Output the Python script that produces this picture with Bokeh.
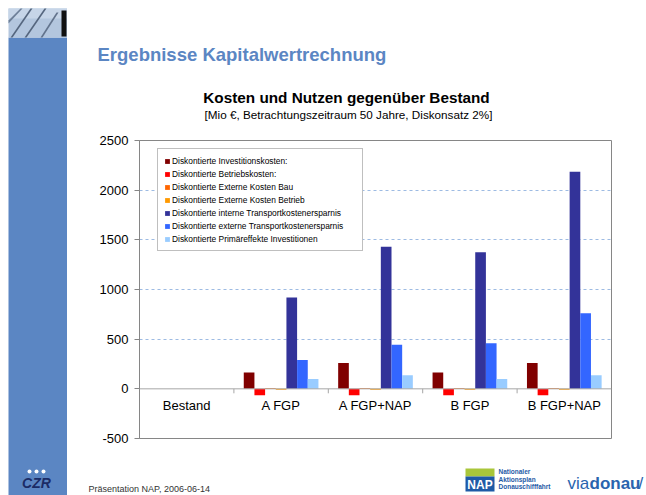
from bokeh.plotting import figure
from bokeh.layouts import row, column
from bokeh.models import FactorRange, Range1d, FixedTicker, Span, Legend, LegendItem
from bokeh.transform import dodge
from bokeh.core.properties import value
from bokeh.embed import file_html
from bokeh.resources import INLINE

# ---------------- data ----------------
categories = ["Bestand", "A FGP", "A FGP+NAP", "B FGP", "B FGP+NAP"]
series_names = [
    "Diskontierte Investitionskosten:",
    "Diskontierte Betriebskosten:",
    "Diskontierte Externe Kosten Bau",
    "Diskontierte Externe Kosten Betrieb",
    "Diskontierte interne Transportkostenersparnis",
    "Diskontierte externe Transportkostenersparnis",
    "Diskontierte Primäreffekte Investitionen",
]
investitionskosten = [0, 165, 260, 165, 260]
betriebskosten = [0, -65, -65, -65, -65]
externe_kosten_bau = [0, 8, 8, 8, 8]
externe_kosten_betrieb = [0, -8, -8, -8, -8]
interne_transport = [0, 920, 1430, 1375, 2185]
externe_transport = [0, 290, 445, 460, 760]
primaereffekte = [0, 100, 138, 100, 138]
y_ticks = [-500, 0, 500, 1000, 1500, 2000, 2500]
grid_ticks = [500, 1000, 1500, 2000]

series_values = [investitionskosten, betriebskosten, externe_kosten_bau,
                 externe_kosten_betrieb, interne_transport, externe_transport,
                 primaereffekte]
colors = ["#800000", "#FF0000", "#FF6600", "#FF9900", "#333399", "#3366FF", "#99CCFF"]

FONT = "Liberation Sans"
SLIDE_BLUE = "#5b86c3"
LOGO_BLUE = "#1f5aa6"

PAGE_W, PAGE_H = 646, 495
STRIP_W = 67
TOP_H, CHART_H = 132, 323
FOOT_H = PAGE_H - TOP_H - CHART_H
RIGHT_W = PAGE_W - STRIP_W


def deco_fig(w, h, x0, x1, y0, y1):
    f = figure(width=w, height=h, x_range=Range1d(x0, x1), y_range=Range1d(y1, y0),
               x_axis_type=None, y_axis_type=None, output_backend="svg", toolbar_location=None,
               min_border=0, min_border_left=0, min_border_right=0, min_border_top=0,
               min_border_bottom=0, frame_align=False)
    f.grid.visible = False
    f.outline_line_color = None
    f.background_fill_color = "white"
    f.border_fill_color = "white"
    return f


def txt(f, x, y, s, size, color="#000000", style="normal", align="left"):
    f.text(x=[x], y=[y], text=[s], text_font=value(FONT), text_font_size=size,
           text_color=color, text_font_style=style, text_align=align, text_baseline="middle")


# ---------------- left strip ----------------
left = deco_fig(STRIP_W, PAGE_H, 0, STRIP_W, 0, PAGE_H)
left.quad(left=[8], right=[67], top=[37], bottom=[PAGE_H], fill_color=SLIDE_BLUE, line_color=None)
left.quad(left=[8], right=[67], top=[8], bottom=[37], fill_color="#b3c6de", line_color=None)
left.quad(left=[8], right=[67], top=[8], bottom=[18], fill_color="#c6d5e8", line_color=None)
left.patches(xs=[[8, 20, 22, 8], [10, 30, 32, 12], [24, 44, 46, 26], [40, 56, 58, 42]],
             ys=[[20, 8, 8, 23], [37, 8, 8, 37], [37, 8, 8, 37], [37, 12, 12, 37]],
             fill_color=["#6d7f98", "#55667e", "#55667e", "#62738c"], line_color=None)
left.quad(left=[61], right=[66], top=[10], bottom=[36], fill_color="#111111", line_color=None)
left.scatter(x=[29, 36, 43], y=[471, 471, 471], size=4, fill_color="white", line_color=None)
txt(left, 36, 482, "CZR", "14px", "#1b2c66", "bold italic", "center")

# ---------------- top (titles) ----------------
top = deco_fig(RIGHT_W, TOP_H, STRIP_W, PAGE_W, 0, TOP_H)
txt(top, 97, 54, "Ergebnisse Kapitalwertrechnung", "18.5px", SLIDE_BLUE, "bold")
txt(top, 346, 97, "Kosten und Nutzen gegenüber Bestand", "15.3px", "#000000", "bold", "center")
txt(top, 348, 114, "[Mio €, Betrachtungszeitraum 50 Jahre, Diskonsatz 2%]", "11.7px",
    "#000000", "normal", "center")

# ---------------- chart ----------------
F_LEFT, F_RIGHT, F_TOP, F_BOTTOM = 139, 611, 140, 438
p = figure(width=RIGHT_W, height=CHART_H, x_range=FactorRange(*categories),
           y_range=Range1d(-500, 2500), output_backend="svg", toolbar_location=None,
           min_border_left=F_LEFT - STRIP_W, min_border_right=PAGE_W - F_RIGHT,
           min_border_top=F_TOP - TOP_H, min_border_bottom=TOP_H + CHART_H - F_BOTTOM,
           frame_align=False)
p.xaxis.visible = False
p.xgrid.visible = False
p.outline_line_color = "#868686"
p.outline_line_width = 1
p.background_fill_color = "white"
p.border_fill_color = "white"

yax = p.yaxis[0]
yax.ticker = FixedTicker(ticks=y_ticks)
yax.major_label_overrides = {t: str(t) for t in y_ticks}
yax.axis_line_color = "#868686"
yax.major_tick_line_color = "#868686"
yax.major_tick_out = 5
yax.major_tick_in = 0
yax.minor_tick_line_color = None
yax.major_label_text_font = FONT
yax.major_label_text_font_size = "13px"
yax.major_label_text_color = "#000000"
yax.major_label_standoff = 6

p.ygrid.ticker = FixedTicker(ticks=grid_ticks)
p.ygrid.grid_line_color = "#9dbbe3"
p.ygrid.grid_line_dash = "3 3"
p.ygrid.grid_line_width = 1

p.add_layout(Span(location=0, dimension="width", line_color="#a6a6a6", line_width=1))
bounds = list(range(1, len(categories)))
p.segment(x0=bounds, y0=[0] * len(bounds), x1=bounds, y1=[-45] * len(bounds),
          line_color="#a6a6a6", line_width=1)

n = len(series_values)
bw = 0.113
renderers = []
for i, (vals, col) in enumerate(zip(series_values, colors)):
    src = {"cat": categories, "val": vals}
    r = p.vbar(x=dodge("cat", (i - (n - 1) / 2) * bw, range=p.x_range), top="val", bottom=0,
               width=bw, source=src, fill_color=col, line_color=None)
    renderers.append(r)

p.text(x=categories, y=[-172] * len(categories), text=categories, text_align="center",
       text_baseline="middle", text_font=value(FONT), text_font_size="13px", text_color="#000000")

pad, lh, sp = 6, 11, 2
leg_h = 2 * pad + len(series_names) * lh + (len(series_names) - 1) * sp
legend = Legend(items=[LegendItem(label=nm, renderers=[r]) for nm, r in zip(series_names, renderers)],
                location=(157 - F_LEFT, F_BOTTOM - (150 + leg_h)), padding=pad, margin=0, spacing=sp,
                label_height=lh, glyph_width=6, glyph_height=6, label_standoff=2, label_width=184,
                label_text_font=FONT, label_text_font_size="8.4px", label_text_color="#000000",
                border_line_color="#808080", border_line_width=1, background_fill_color="white",
                background_fill_alpha=1)
p.add_layout(legend)

# ---------------- footer ----------------
foot = deco_fig(RIGHT_W, FOOT_H, STRIP_W, PAGE_W, TOP_H + CHART_H, PAGE_H)
txt(foot, 88, 488, "Präsentation NAP, 2006-06-14", "9px", "#333333")
foot.quad(left=[465], right=[494], top=[468], bottom=[476], fill_color="#a9c63a", line_color=None)
foot.quad(left=[465], right=[494], top=[476], bottom=[491], fill_color=LOGO_BLUE, line_color=None)
txt(foot, 479.5, 484, "NAP", "12px", "#ffffff", "bold", "center")
txt(foot, 498, 471, "Nationaler", "6.5px", LOGO_BLUE, "bold")
txt(foot, 498, 478.5, "Aktionsplan", "6.5px", LOGO_BLUE, "bold")
txt(foot, 498, 486, "Donauschifffahrt", "6.5px", LOGO_BLUE, "bold")
txt(foot, 567, 483, "via", "17px", "#2a64ae", "normal")
txt(foot, 589, 483, "donau", "17px", "#2a64ae", "bold")
txt(foot, 638, 483, "/", "17px", "#2a64ae", "normal")

layout = row(left, column(top, p, foot))
open("out.html", "w").write(file_html(layout, INLINE))
